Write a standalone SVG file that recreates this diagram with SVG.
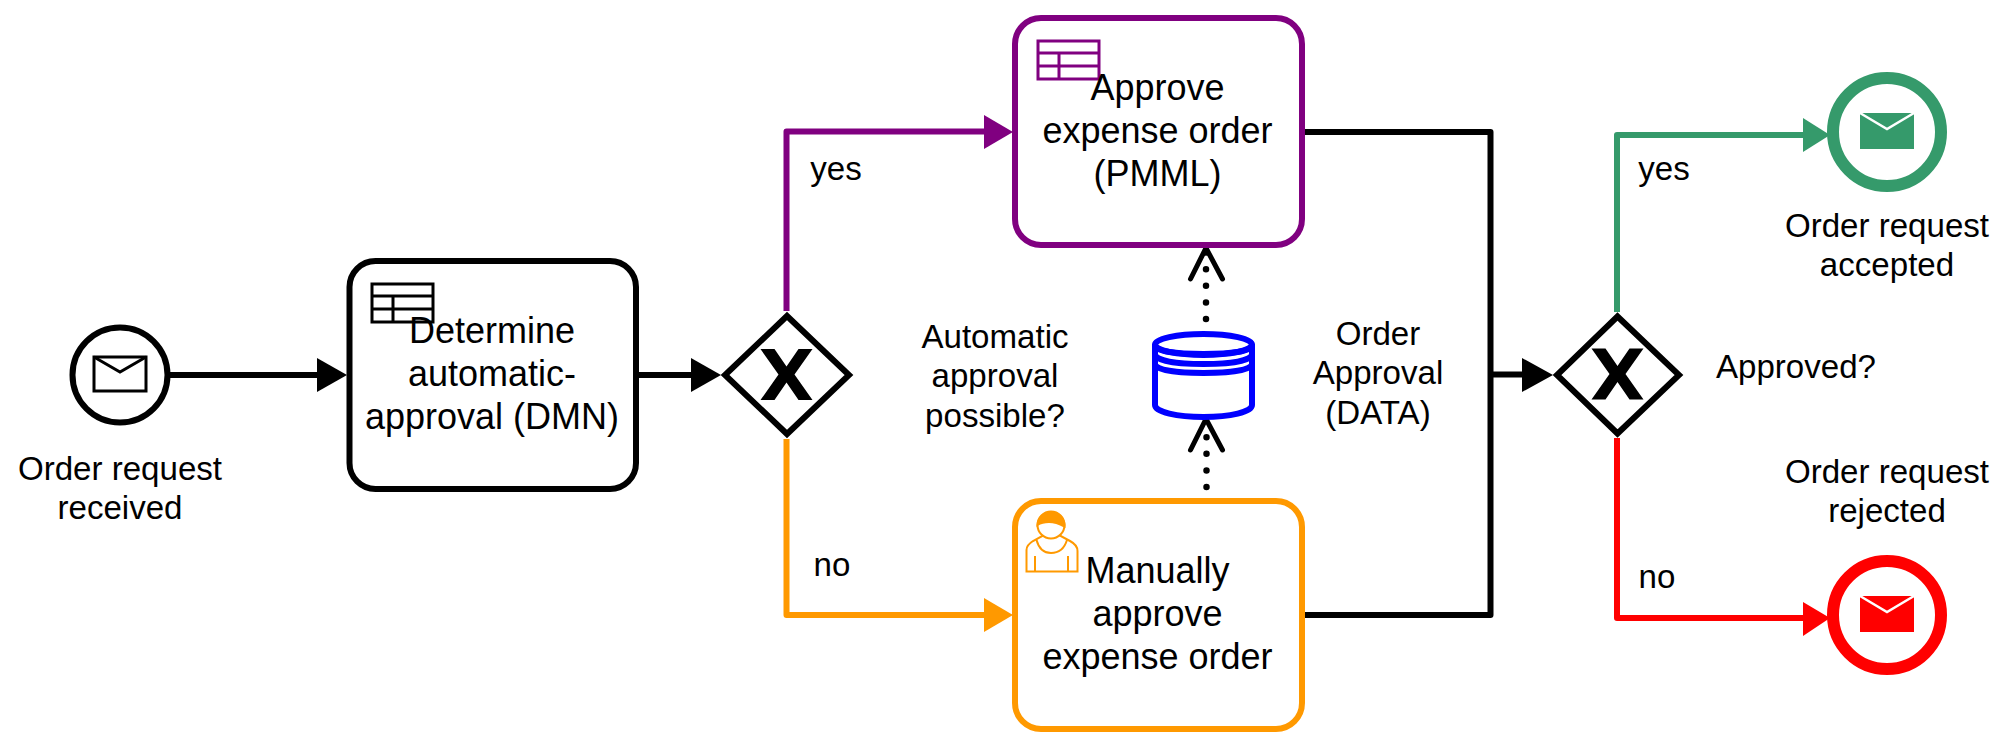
<svg xmlns="http://www.w3.org/2000/svg" xmlns:xlink="http://www.w3.org/1999/xlink" width="2010" height="747" viewBox="0 0 2010 747">
<style>
text{font-family:"Liberation Sans",Arial,sans-serif;fill:#000;text-anchor:middle}
.t{font-size:36px}
.l{font-size:33.1px}
.task{fill:#fff;stroke-width:6}
.flow{fill:none;stroke-width:6;stroke-linejoin:round}
.dot{fill:none;stroke:#000;stroke-width:6.5;stroke-linecap:round;stroke-dasharray:0 16.6}
.open{fill:none;stroke:#000;stroke-width:5;stroke-linecap:round;stroke-linejoin:miter}
.gw{fill:#fff;stroke:#000;stroke-width:6;stroke-linejoin:miter}
.tbl{fill:none;stroke-width:3}
</style>
<defs>
<polygon id="xmark" points="-26,-25.500 -12,-25.500 0,-8 12,-25.500 26,-25.500 8,0 26,25.500 12,25.500 0,8 -12,25.500 -26,25.500 -8,0"/>
</defs>
<g id="connectors">
<path class="flow" stroke="#000" d="M170 375H320"/><polygon points="317,358 347,375 317,392" fill="#000"/>
<path class="flow" stroke="#000" d="M638 375H694"/><polygon points="691,358 721,375 691,392" fill="#000"/>
<path class="flow" stroke="#800080" d="M786.500 311V131.500H987"/><polygon points="984,115 1013,132 984,149" fill="#800080"/>
<path class="flow" stroke="#f90" d="M786.500 439V615H987"/><polygon points="984,598 1013,615 984,632" fill="#f90"/>
<path class="flow" stroke="#000" d="M1305 132H1490.500V615H1305"/>
<path class="flow" stroke="#000" d="M1490 374.500H1525"/><polygon points="1522,358 1553,375 1522,392" fill="#000"/>
<path class="flow" stroke="#359a6b" d="M1617 312V135H1806"/><polygon points="1803,118 1830,135 1803,152" fill="#359a6b"/>
<path class="flow" stroke="#f00" d="M1617 438V618H1806"/><polygon points="1803,602 1830,618 1803,636" fill="#f00"/>
<path class="dot" d="M1206 319V252"/><path class="open" d="M1190.500 279L1206 248L1222.500 279"/>
<path class="dot" d="M1206.500 487V422"/><path class="open" d="M1190.500 450L1206 419L1222.500 450"/>
</g>
<g id="start-event">
<circle cx="120" cy="375" r="47.500" fill="#fff" stroke="#000" stroke-width="6"/>
<rect x="94" y="357" width="52" height="34" fill="none" stroke="#000" stroke-width="3"/>
<path d="M94 357L120 372L146 357" fill="none" stroke="#000" stroke-width="3"/>
<text class="l" x="120" y="480">Order request</text><text class="l" x="120" y="519">received</text>
</g>
<g id="task-dmn">
<rect class="task" x="349.500" y="261" width="286.500" height="228" rx="26" stroke="#000"/>
<g class="tbl" stroke="#000"><rect x="372" y="284" width="61" height="38"/><path d="M372 296H433M372 309H433M393 296V322"/></g>
<text class="t" x="492" y="343">Determine</text><text class="t" x="492" y="386">automatic-</text><text class="t" x="492" y="429">approval (DMN)</text>
</g>
<g id="gateway-auto">
<polygon class="gw" points="787,316 849,375 787,434 725,375"/>
<use xlink:href="#xmark" href="#xmark" x="786.500" y="374.500"/>
<text class="l" x="995" y="348">Automatic</text><text class="l" x="995" y="387">approval</text><text class="l" x="995" y="427">possible?</text>
</g>
<g id="task-pmml">
<rect class="task" x="1015" y="18" width="287" height="227" rx="26" stroke="#800080"/>
<g class="tbl" stroke="#800080"><rect x="1038" y="41" width="61" height="38"/><path d="M1038 53H1099M1038 66H1099M1059 53V79"/></g>
<text class="t" x="1157.500" y="100">Approve</text><text class="t" x="1157.500" y="143">expense order</text><text class="t" x="1157.500" y="186">(PMML)</text>
</g>
<g id="task-manual">
<rect class="task" x="1015" y="501" width="287" height="228" rx="26" stroke="#f90"/>
<path d="M1026.500 571.500V550Q1026.500 545 1033 541L1044 535H1059L1070 541Q1077.500 545 1077.500 551V571.500Z" fill="#fff" stroke="#f90" stroke-width="2"/>
<circle cx="1051" cy="525" r="13.500" fill="#fff" stroke="#f90" stroke-width="2"/>
<path d="M1037.500 525A13.500 13.500 0 0 1 1064.500 526.500Q1056 522 1049 522Q1042 522 1037.500 525Z" fill="#f90" stroke="#f90" stroke-width="2"/>
<path d="M1036.500 540Q1040 553 1051 553Q1063 553 1067 540M1035 556V571M1068 556V571" fill="none" stroke="#f90" stroke-width="2"/>
<text class="t" x="1157.500" y="583">Manually</text><text class="t" x="1157.500" y="626">approve</text><text class="t" x="1157.500" y="669">expense order</text>
</g>
<g id="data-store">
<path d="M1155 344.500V405C1155 412 1177 417 1203.500 417S1252 412 1252 405V344.500" fill="#fff" stroke="#00f" stroke-width="6"/>
<ellipse cx="1203.500" cy="344.500" rx="48.500" ry="10.500" fill="#fff" stroke="#00f" stroke-width="6"/>
<path d="M1155 344.500C1155 352 1177 354 1203.500 354S1252 352 1252 344.500M1155 354C1155 361 1177 364 1203.500 364S1252 361 1252 354M1155 364C1155 370 1177 373 1203.500 373S1252 370 1252 364" fill="none" stroke="#00f" stroke-width="6"/>
<text class="l" x="1378" y="345">Order</text><text class="l" x="1378" y="384">Approval</text><text class="l" x="1378" y="424">(DATA)</text>
</g>
<g id="gateway-approved">
<polygon class="gw" points="1617.500,316.500 1679,375 1617.500,433.500 1557,375"/>
<use xlink:href="#xmark" href="#xmark" x="1617.500" y="374"/>
<text class="l" x="1796" y="378">Approved?</text>
</g>
<g id="end-accepted">
<circle cx="1887" cy="132" r="54" fill="#fff" stroke="#359a6b" stroke-width="12"/>
<rect x="1860" y="113" width="54" height="36" fill="#359a6b"/>
<path d="M1860 113L1887 129L1914 113" fill="none" stroke="#fff" stroke-width="2.500"/>
<text class="l" x="1887" y="237">Order request</text><text class="l" x="1887" y="276">accepted</text>
</g>
<g id="end-rejected">
<circle cx="1887" cy="615" r="54" fill="#fff" stroke="#f00" stroke-width="12"/>
<rect x="1860" y="596" width="54" height="36" fill="#f00"/>
<path d="M1860 596L1887 612L1914 596" fill="none" stroke="#fff" stroke-width="2.500"/>
<text class="l" x="1887" y="483">Order request</text><text class="l" x="1887" y="522">rejected</text>
</g>
<g id="flow-labels">
<text class="l" x="836" y="180">yes</text><text class="l" x="832" y="576">no</text>
<text class="l" x="1664" y="180">yes</text><text class="l" x="1657" y="588">no</text>
</g>
</svg>
